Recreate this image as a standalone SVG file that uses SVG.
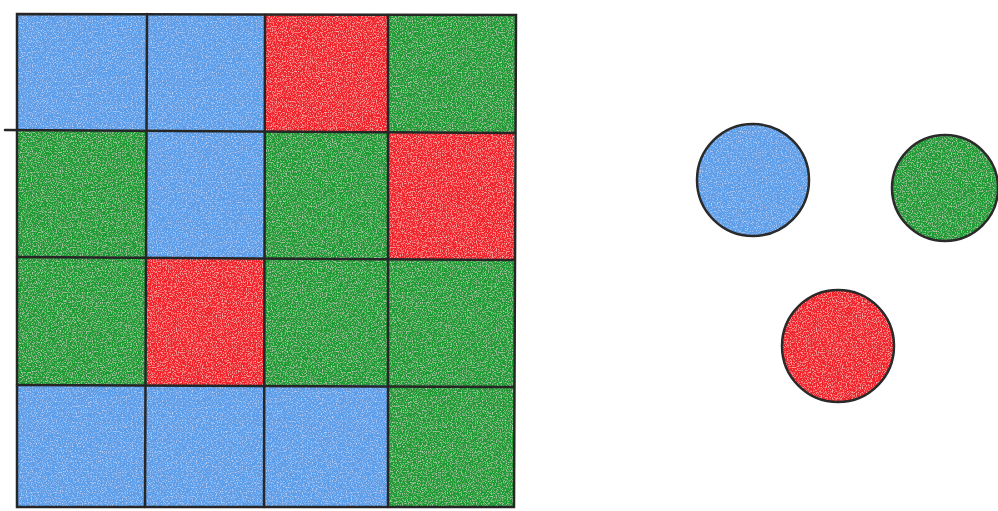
<svg xmlns="http://www.w3.org/2000/svg" width="998" height="511" viewBox="0 0 998 511">
<style>
.b{fill:#5a9de9}
.r{fill:#f2232a}
.g{fill:#1c9b30}
.ln{stroke:#262626;stroke-width:2.5;fill:none;stroke-linecap:round}
.c{stroke:#2a2a2a;stroke-width:2.5;fill:none}
</style>
<defs>
<filter id="tex" x="0" y="0" width="100%" height="100%">
<feTurbulence type="fractalNoise" baseFrequency="0.8" numOctaves="2" seed="3" result="n"/>
<feColorMatrix in="n" type="matrix" values="0 0 0 0 1  0 0 0 0 1  0 0 0 0 1  0 0 0 -3 1.55" result="w"/>
<feComponentTransfer in="w" result="w2"><feFuncA type="linear" slope="0.45"/></feComponentTransfer>
<feComposite in="w2" in2="SourceGraphic" operator="in" result="wm"/>
<feMerge><feMergeNode in="SourceGraphic"/><feMergeNode in="wm"/></feMerge>
</filter>
</defs>
<rect width="998" height="511" fill="#ffffff"/>
<g id="grid" filter="url(#tex)">
<rect class="b" x="17" y="15" width="130" height="116"/>
<rect class="b" x="147" y="15" width="118" height="116"/>
<rect class="r" x="265" y="15" width="123" height="116"/>
<rect class="g" x="388" y="15" width="128" height="118"/>
<rect class="g" x="17" y="131" width="130" height="127"/>
<rect class="b" x="147" y="131" width="118" height="127"/>
<rect class="g" x="265" y="131" width="123" height="127"/>
<rect class="r" x="388" y="133" width="126" height="127"/>
<rect class="g" x="17" y="258" width="130" height="127"/>
<rect class="r" x="147" y="258" width="118" height="127"/>
<rect class="g" x="265" y="258" width="123" height="127"/>
<rect class="g" x="388" y="260" width="126" height="127"/>
<rect class="b" x="17" y="385" width="130" height="122"/>
<rect class="b" x="147" y="385" width="118" height="122"/>
<rect class="b" x="265" y="385" width="123" height="122"/>
<rect class="g" x="388" y="387" width="126" height="120"/>
</g>
<g id="gridlines">
<path class="ln" d="M17 14 L516 15 L514 507 L17 507 Z"/>
<path class="ln" d="M5 130 L515 133"/>
<path class="ln" d="M17 257 L514 260"/>
<path class="ln" d="M17 385 L514 387"/>
<path class="ln" d="M147 14 L145 507"/>
<path class="ln" d="M265 15 L264 507"/>
<path class="ln" d="M388 15 L388 507"/>
</g>
<g id="circle-blue"><circle class="b" cx="753" cy="180" r="56" filter="url(#tex)"/><circle class="c" cx="753" cy="180" r="56"/></g>
<g id="circle-green"><circle class="g" cx="945" cy="188" r="53" filter="url(#tex)"/><circle class="c" cx="945" cy="188" r="53"/></g>
<g id="circle-red"><circle class="r" cx="838" cy="346" r="56" filter="url(#tex)"/><circle class="c" cx="838" cy="346" r="56"/></g>
</svg>
